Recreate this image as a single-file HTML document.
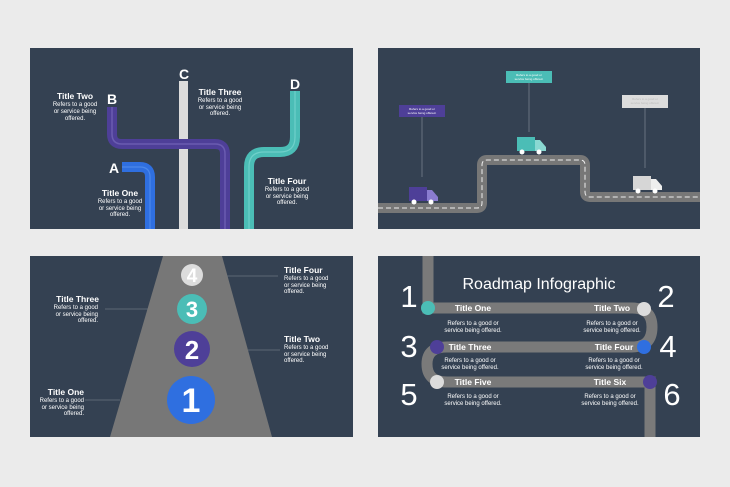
<!DOCTYPE html>
<html><head><meta charset="utf-8"><style>
html,body{margin:0;padding:0;background:#ebebeb}
svg{display:block}
text{font-family:"Liberation Sans",sans-serif;fill:#fff}
.t{font-weight:bold;font-size:8.5px}
.d{font-size:6px}
</style></head><body>
<svg width="730" height="487" viewBox="0 0 730 487" xmlns="http://www.w3.org/2000/svg">
<rect width="730" height="487" fill="#ebebeb"/>
<!-- Panel 1 -->
<rect x="30" y="48" width="323" height="181" fill="#344152"/>
<rect x="179" y="81" width="9" height="148" fill="#dcdcdc"/>
<path d="M112 107 V134 Q112 144 122 144 H215 Q225 144 225 154 V229" fill="none" stroke="#4e3f98" stroke-width="10"/>
<path d="M112 107 V134 Q112 144 122 144 H215 Q225 144 225 154 V229" fill="none" stroke="#6a5cb0" stroke-width="1.5"/>
<path d="M122 167 H140 Q150 167 150 177 V229" fill="none" stroke="#2f6fe0" stroke-width="10"/>
<path d="M122 167 H140 Q150 167 150 177 V229" fill="none" stroke="#4c88ea" stroke-width="1.2"/>
<path d="M295 91 V137 Q295 152 280 152 H264 Q249 152 249 167 V229" fill="none" stroke="#4bbdb6" stroke-width="10"/>
<path d="M295 91 V137 Q295 152 280 152 H264 Q249 152 249 167 V229" fill="none" stroke="#6fd0ca" stroke-width="1.2"/>
<text x="114" y="173" font-size="14" font-weight="bold" text-anchor="middle">A</text>
<text x="112" y="104" font-size="14" font-weight="bold" text-anchor="middle">B</text>
<text x="184" y="79" font-size="14" font-weight="bold" text-anchor="middle">C</text>
<text x="295" y="89" font-size="14" font-weight="bold" text-anchor="middle">D</text>
<g text-anchor="middle">
<text class="t" x="75" y="99">Title Two</text><text class="d" x="75" y="106">Refers to a good</text><text class="d" x="75" y="113">or service being</text><text class="d" x="75" y="120">offered.</text>
<text class="t" x="220" y="95">Title Three</text><text class="d" x="220" y="102">Refers to a good</text><text class="d" x="220" y="109">or service being</text><text class="d" x="220" y="115">offered.</text>
<text class="t" x="120" y="196">Title One</text><text class="d" x="120" y="203">Refers to a good</text><text class="d" x="120" y="210">or service being</text><text class="d" x="120" y="216">offered.</text>
<text class="t" x="287" y="184">Title Four</text><text class="d" x="287" y="191">Refers to a good</text><text class="d" x="287" y="198">or service being</text><text class="d" x="287" y="204">offered.</text>
</g>
<!-- Panel 2 -->
<rect x="378" y="48" width="322" height="181" fill="#344152"/>
<path d="M378 208 H477 Q482 208 482 203 V165 Q482 160 487 160 H580 Q585 160 585 165 V192 Q585 197 590 197 H700" fill="none" stroke="#777" stroke-width="10"/>
<path d="M378 208 H477 Q482 208 482 203 V165 Q482 160 487 160 H580 Q585 160 585 165 V192 Q585 197 590 197 H700" fill="none" stroke="#eee" stroke-width="1" stroke-dasharray="5,3"/>
<line x1="422" y1="117" x2="422" y2="177" stroke="#8a93a0" stroke-width="0.6"/>
<line x1="529" y1="83" x2="529" y2="132" stroke="#8a93a0" stroke-width="0.6"/>
<line x1="645" y1="108" x2="645" y2="168" stroke="#8a93a0" stroke-width="0.6"/>
<rect x="399" y="105" width="46" height="12" fill="#4e3f98"/>
<rect x="506" y="71" width="46" height="12" fill="#4bbdb6"/>
<rect x="622" y="95" width="46" height="13" fill="#dcdcdc"/>
<g text-anchor="middle" font-size="3">
<text x="422" y="110" style="font-size:3px">Refers to a good or</text><text x="422" y="114" style="font-size:3px">service being offered.</text>
<text x="529" y="76" style="font-size:3px">Refers to a good or</text><text x="529" y="80" style="font-size:3px">service being offered.</text>
<text x="645" y="100" style="font-size:3px;fill:#bbb">Refers to a good or</text><text x="645" y="104" style="font-size:3px;fill:#bbb">service being offered.</text>
</g>
<g><rect x="409" y="187" width="18" height="14" fill="#4e3f98"/><path d="M427 190 H432 L438 197 V201 H427Z" fill="#8a7cd0"/><circle cx="414" cy="202" r="2.5" fill="#fff"/><circle cx="431" cy="202" r="2.5" fill="#fff"/></g>
<g><rect x="517" y="137" width="18" height="14" fill="#4bbdb6"/><path d="M535 140 H540 L546 147 V151 H535Z" fill="#8ad8d2"/><circle cx="522" cy="152" r="2.5" fill="#fff"/><circle cx="539" cy="152" r="2.5" fill="#fff"/></g>
<g><rect x="633" y="176" width="18" height="14" fill="#d6d6d6"/><path d="M651 179 H656 L662 186 V190 H651Z" fill="#eee"/><circle cx="638" cy="191" r="2.5" fill="#fff"/><circle cx="655" cy="191" r="2.5" fill="#fff"/></g>
<!-- Panel 3 -->
<rect x="30" y="256" width="323" height="181" fill="#344152"/>
<polygon points="163,256 222,256 272,437 110,437" fill="#777"/>
<g stroke="#6b7480" stroke-width="0.7">
<line x1="227" y1="276" x2="278" y2="276"/><line x1="105" y1="309" x2="148" y2="309"/>
<line x1="248" y1="350" x2="280" y2="350"/><line x1="85" y1="400" x2="120" y2="400"/></g>
<circle cx="192" cy="275" r="11" fill="#dcdcdc"/><circle cx="192" cy="309" r="15" fill="#4bbdb6"/>
<circle cx="192" cy="349" r="18" fill="#4e3f98"/><circle cx="191" cy="400" r="24" fill="#2f6fe0"/>
<g text-anchor="middle" font-weight="bold">
<text x="192" y="282" font-size="19">4</text><text x="192" y="317" font-size="22">3</text>
<text x="192" y="359" font-size="26">2</text><text x="191" y="412" font-size="34">1</text></g>
<text class="t" x="284" y="273">Title Four</text><text class="d" x="284" y="280">Refers to a good</text><text class="d" x="284" y="287">or service being</text><text class="d" x="284" y="293">offered.</text>
<text class="t" x="284" y="342">Title Two</text><text class="d" x="284" y="349">Refers to a good</text><text class="d" x="284" y="356">or service being</text><text class="d" x="284" y="362">offered.</text>
<g text-anchor="end">
<text class="t" x="99" y="302">Title Three</text><text class="d" x="98" y="309">Refers to a good</text><text class="d" x="98" y="316">or service being</text><text class="d" x="98" y="322">offered.</text>
<text class="t" x="84" y="395">Title One</text><text class="d" x="84" y="402">Refers to a good</text><text class="d" x="84" y="409">or service being</text><text class="d" x="84" y="415">offered.</text></g>
<!-- Panel 4 -->
<rect x="378" y="256" width="322" height="181" fill="#344152"/>
<path d="M428 256 V308 H632 Q652 308 652 327 Q652 347 632 347 H447 Q427 347 427 364 Q427 382 447 382 H650 V437" fill="none" stroke="#7a7a7a" stroke-width="11"/>
<circle cx="428" cy="308" r="7" fill="#4bbdb6"/><circle cx="644" cy="309" r="7" fill="#dcdcdc"/>
<circle cx="437" cy="347" r="7" fill="#4e3f98"/><circle cx="644" cy="347" r="7" fill="#2f6fe0"/>
<circle cx="437" cy="382" r="7" fill="#dcdcdc"/><circle cx="650" cy="382" r="7" fill="#4e3f98"/>
<text x="539" y="289" font-size="16" text-anchor="middle">Roadmap Infographic</text>
<g text-anchor="middle" font-size="31">
<text x="409" y="307">1</text><text x="666" y="307">2</text><text x="409" y="357">3</text>
<text x="668" y="357">4</text><text x="409" y="405">5</text><text x="672" y="405">6</text></g>
<g text-anchor="middle">
<text class="t" x="473" y="311">Title One</text><text class="t" x="612" y="311">Title Two</text>
<text class="t" x="470" y="350">Title Three</text><text class="t" x="614" y="350">Title Four</text>
<text class="t" x="473" y="385">Title Five</text><text class="t" x="610" y="385">Title Six</text>
<text class="d" x="473" y="325">Refers to a good or</text><text class="d" x="473" y="332">service being offered.</text>
<text class="d" x="612" y="325">Refers to a good or</text><text class="d" x="612" y="332">service being offered.</text>
<text class="d" x="470" y="362">Refers to a good or</text><text class="d" x="470" y="369">service being offered.</text>
<text class="d" x="614" y="362">Refers to a good or</text><text class="d" x="614" y="369">service being offered.</text>
<text class="d" x="473" y="398">Refers to a good or</text><text class="d" x="473" y="405">service being offered.</text>
<text class="d" x="610" y="398">Refers to a good or</text><text class="d" x="610" y="405">service being offered.</text>
</g>
</svg>
</body></html>
